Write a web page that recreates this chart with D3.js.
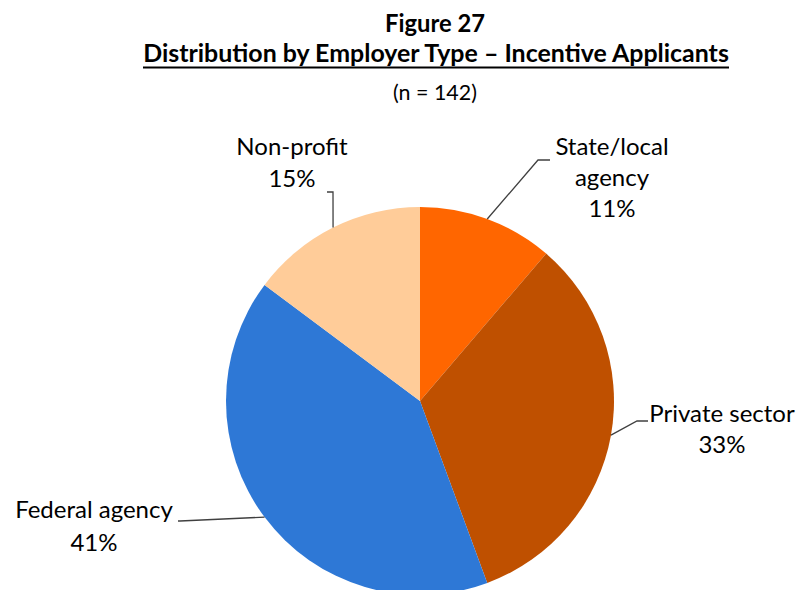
<!DOCTYPE html>
<html><head><meta charset="utf-8">
<script src="https://cdn.jsdelivr.net/npm/d3@7"></script>
<style>body{margin:0;background:#fff;} text{font-family:Lato, "Open Sans", sans-serif;fill:#000;}</style>
</head><body><svg id="c" width="804" height="590"></svg>
<script>
const categories = ["State/local agency", "Private sector", "Federal agency", "Non-profit"];
const counts = [16, 47, 58, 21];
const percentLabels = ["11%", "33%", "41%", "15%"];
const labelLines = [["State/local", "agency", "11%"], ["Private sector", "33%"], ["Federal agency", "41%"], ["Non-profit", "15%"]];
const colors = ["#FF6600", "#BF5000", "#2E78D6", "#FFCC99"];

// label layout (positions only)
const layout = [
  {elbow:[538,160], end:[550,160], tx:612, y0:155, lh:31},
  {elbow:[637,421], end:[648,421], tx:722, y0:422, lh:31},
  {elbow:[180,521], end:[178,521], tx:94, y0:518, lh:33},
  {elbow:[333,192], end:[327,192], tx:292, y0:155, lh:32}
];

const svg = d3.select("#c");
const cx = 420, cy = 401, r = 194;

function fit(sel, w) {
  const len = sel.node().getComputedTextLength();
  const fs = parseFloat(sel.style("font-size"));
  sel.style("font-size", (fs * w / len) + "px");
}

const t1 = svg.append("text").attr("x", 435).attr("y", 32).attr("text-anchor","middle")
  .style("font-weight","bold").style("font-size","20px").text("Figure 27");
fit(t1, 100);
const t2 = svg.append("text").attr("x", 436).attr("y", 62).attr("text-anchor","middle")
  .style("font-weight","bold").style("font-size","20px")
  .text("Distribution by Employer Type \u2013 Incentive Applicants");
fit(t2, 586);
svg.append("line").attr("x1",143).attr("x2",729).attr("y1",67.5).attr("y2",67.5)
  .attr("stroke","#000").attr("stroke-width",2);
const t3 = svg.append("text").attr("x", 435).attr("y", 100).attr("text-anchor","middle")
  .style("font-size","16px").text("(n = 142)");
fit(t3, 84);

const pie = d3.pie().sort(null).value(d => d)(counts);
const arc = d3.arc().innerRadius(0).outerRadius(r);
const g = svg.append("g").attr("transform", `translate(${cx},${cy})`);
g.selectAll("path").data(pie).join("path").attr("d", arc).attr("fill", (d,i) => colors[i]);

pie.forEach((d,i) => {
  const a = (d.startAngle + d.endAngle)/2;
  const p0 = [cx + r*Math.sin(a), cy - r*Math.cos(a)];
  const L = layout[i];
  svg.append("polyline").attr("points", [p0, L.elbow, L.end].map(p=>p.join(",")).join(" "))
    .attr("fill","none").attr("stroke","#404040").attr("stroke-width",1.3);
  const lines = labelLines[i];
  const tx = svg.append("text").attr("text-anchor", "middle").style("font-size","24px");
  lines.forEach((s,k) => tx.append("tspan").attr("x", L.tx).attr("y", L.y0 + k*L.lh).text(s));
});
</script></body></html>
